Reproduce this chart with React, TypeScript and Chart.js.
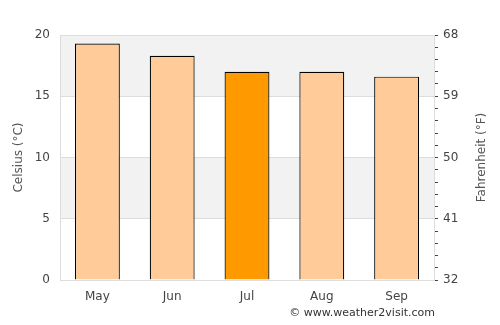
import React, { useEffect, useRef } from "react";
import { Chart, registerables } from "chart.js";

Chart.register(...registerables);

const months = ["May", "Jun", "Jul", "Aug", "Sep"];
const celsius = [19.3, 18.3, 17.0, 17.0, 16.6];
const barColors = ["#ffcc99", "#ffcc99", "#ff9900", "#ffcc99", "#ffcc99"];
const bands = [[5, 10], [15, 20]];
const copyright = "© www.weather2visit.com";
const leftTitle = "Celsius (°C)";
const rightTitle = "Fahrenheit (°F)";

const FONT = "'DejaVu Sans', sans-serif";

const bandPlugin = {
  id: "bands",
  beforeDraw(chart: any) {
    const { ctx, chartArea, scales } = chart;
    const y = scales.y;
    ctx.save();
    ctx.fillStyle = "#f2f2f2";
    for (const [a, b] of bands) {
      const top = y.getPixelForValue(b);
      const bot = y.getPixelForValue(a);
      ctx.fillRect(chartArea.left, top, chartArea.right - chartArea.left, bot - top);
    }
    ctx.restore();
  },
  afterDraw(chart: any) {
    const { ctx, chartArea } = chart;
    const midY = (chartArea.top + chartArea.bottom) / 2;
    ctx.save();
    ctx.font = "11px " + FONT;
    ctx.fillStyle = "#333";
    ctx.textAlign = "right";
    ctx.textBaseline = "middle";
    ctx.fillText(copyright, chartArea.right + 1, 313);

    ctx.font = "12px " + FONT;
    ctx.fillStyle = "#555";
    ctx.textAlign = "center";
    ctx.textBaseline = "middle";
    for (const [x, t] of [[19, leftTitle], [482, rightTitle]] as [number, string][]) {
      ctx.save();
      ctx.translate(x, midY);
      ctx.rotate(-Math.PI / 2);
      ctx.fillText(t, 0, 0);
      ctx.restore();
    }
    ctx.restore();
  },
};

export default function App() {
  const ref = useRef<HTMLCanvasElement>(null);
  useEffect(() => {
    if (!ref.current) return;
    const chart = new Chart(ref.current, {
      type: "bar",
      data: {
        labels: months,
        datasets: [
          {
            data: celsius,
            backgroundColor: barColors,
            borderColor: "#000",
            borderWidth: 1.2,
            barPercentage: 0.6,
            categoryPercentage: 1,
          },
        ],
      },
      plugins: [bandPlugin],
      options: {
        animation: false,
        responsive: false,
        maintainAspectRatio: false,
        layout: { padding: { top: 35, left: 0, right: 0, bottom: 0 } },
        plugins: { legend: { display: false }, tooltip: { enabled: false } },
        scales: {
          x: {
            grid: { display: false, drawTicks: false },
            border: { color: "#dddddd" },
            ticks: { color: "#444", font: { family: FONT, size: 12 }, padding: 10 },
            afterFit(s: any) { s.height = 45; },
          },
          y: {
            position: "left",
            min: 0,
            max: 20,
            grid: { color: "#dddddd", drawTicks: false },
            border: { color: "#dddddd" },
            ticks: { stepSize: 5, color: "#444", font: { family: FONT, size: 12 }, padding: 10 },
            afterFit(s: any) { s.width = 60; },
          },
          y1: {
            position: "right",
            min: 0,
            max: 20,
            grid: { drawOnChartArea: false, color: "#444", tickLength: 4 },
            border: { color: "#dddddd" },
            ticks: {
              stepSize: 1,
              autoSkip: false,
              color: "#444",
              font: { family: FONT, size: 12 },
              padding: 5,
              callback: (v: any) => (Number(v) % 5 === 0 ? String(Math.round(Number(v) * 1.8 + 32)) : ""),
            },
            afterFit(s: any) { s.width = 66; },
          },
        },
      },
    });
    return () => chart.destroy();
  }, []);
  return (
    <div style={{ position: "fixed", left: 0, top: 0, width: 500, height: 325, background: "#fff" }}>
      <canvas ref={ref} width={500} height={325} />
    </div>
  );
}
